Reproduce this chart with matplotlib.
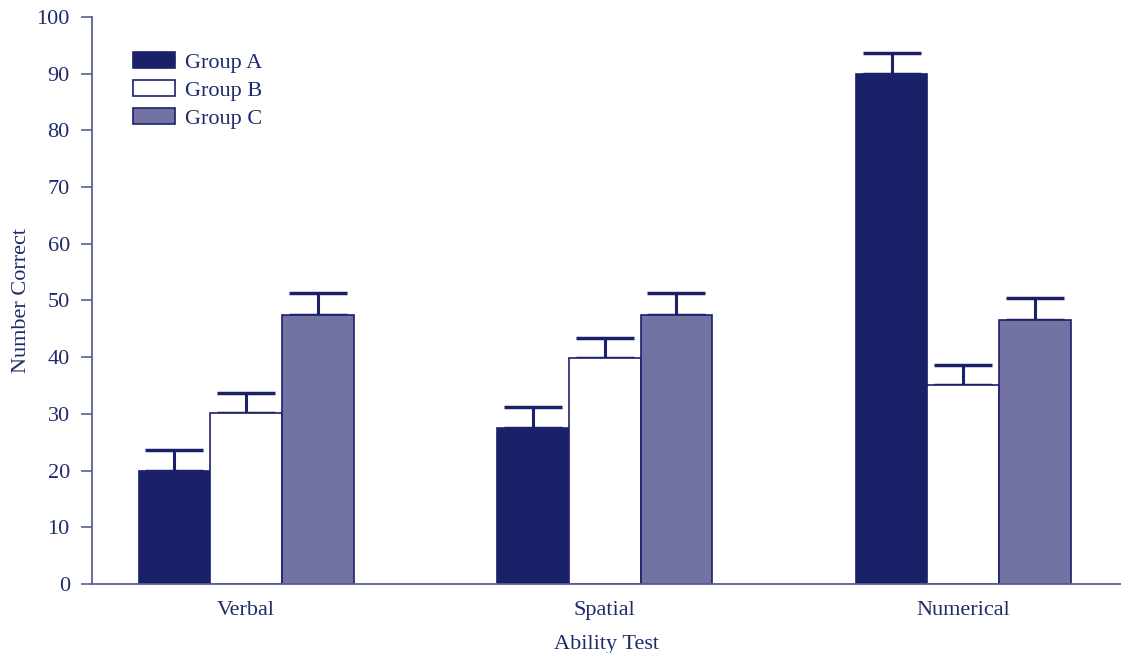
import matplotlib.pyplot as plt
import numpy as np

NAVY = '#1b2169'
SLATE = '#7373a3'
TEXT = '#1f2a6b'

tests = ['Verbal', 'Spatial', 'Numerical']
groups = ['Group A', 'Group B', 'Group C']
group_a = [20, 27.5, 90]
group_b = [30.2, 39.8, 35.1]
group_c = [47.5, 47.5, 46.5]
err_a = [3.6, 3.8, 3.7]
err_b = [3.4, 3.6, 3.6]
err_c = [3.8, 3.8, 3.9]

plt.rcParams['font.family'] = ['Liberation Serif', 'DejaVu Serif']

fig = plt.figure(figsize=(11.21, 6.53), dpi=100)
ax = fig.add_axes([0.0821, 0.1057, 0.9179, 0.8683])

x = np.arange(len(tests))
w = 0.2
series = [(group_a, err_a, NAVY), (group_b, err_b, 'white'), (group_c, err_c, SLATE)]
for i, (vals, errs, fc) in enumerate(series):
    pos = x + (i - 1) * w
    ax.bar(pos, vals, w, color=fc, edgecolor=NAVY, linewidth=1.2,
           label=groups[i], zorder=2)
    ax.errorbar(pos, vals, yerr=[np.zeros(len(errs)), errs], fmt='none',
                ecolor=NAVY, elinewidth=2.2, capsize=21, capthick=2.5, zorder=1)

ax.set_xlim(-0.43, 2.44)
ax.set_ylim(0, 100)
ax.set_yticks(np.arange(0, 101, 10))
ax.set_xticks(x)
ax.set_xticklabels(tests)

for s in ['top', 'right']:
    ax.spines[s].set_visible(False)
for s in ['left', 'bottom']:
    ax.spines[s].set_color('#5a5f94')
    ax.spines[s].set_linewidth(1.3)

ax.tick_params(axis='y', direction='out', length=8, width=1.2, color='#5a5f94',
               labelsize=16, labelcolor=TEXT, pad=8)
ax.tick_params(axis='x', length=0, labelsize=16, labelcolor=TEXT, pad=12)

ax.set_ylabel('Number Correct', fontsize=16, color=TEXT)
ax.yaxis.set_label_coords(-0.059, 0.5)
ax.set_xlabel('Ability Test', fontsize=16, color=TEXT)
ax.xaxis.set_label_coords(0.5, -0.09)

leg = ax.legend(loc='upper left', bbox_to_anchor=(0.0203, 0.974), frameon=False,
                fontsize=16, handlelength=1.9, handleheight=0.75,
                labelspacing=0.32, handletextpad=0.45, borderpad=0.4)
for t in leg.get_texts():
    t.set_color(TEXT)

fig.savefig('out.png', dpi=100, facecolor='white')
